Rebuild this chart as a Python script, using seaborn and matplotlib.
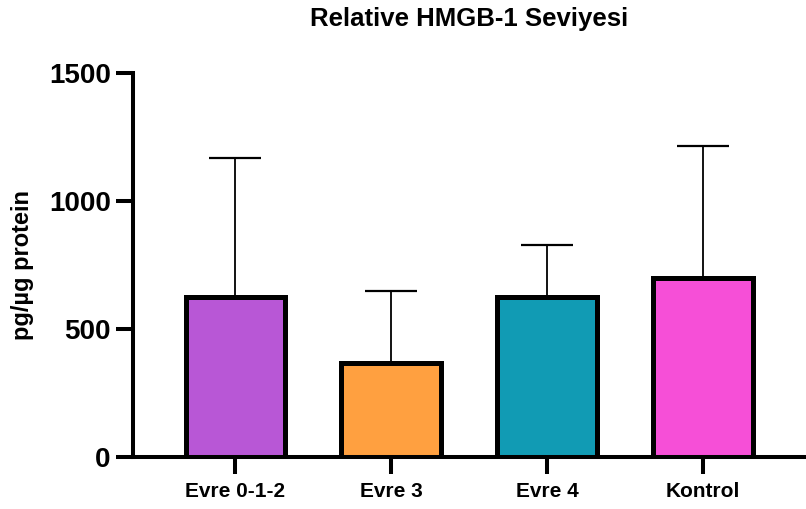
import matplotlib
matplotlib.use("Agg")
import matplotlib.pyplot as plt
import seaborn as sns
import pandas as pd
import numpy as np

categories = ["Evre 0-1-2", "Evre 3", "Evre 4", "Kontrol"]
means = [624, 366, 625, 698]
sd_upper = [545, 281, 201, 516]
colors = ["#B857D6", "#FFA040", "#119BB4", "#F64FD7"]
yticks = [0, 500, 1000, 1500]

sns.set_theme(style="white")
plt.rcParams["font.family"] = ["Liberation Sans", "DejaVu Sans"]
plt.rcParams["font.weight"] = "bold"
plt.rcParams["text.color"] = "black"
plt.rcParams["axes.labelcolor"] = "black"

fig = plt.figure(figsize=(8.06, 5.09), dpi=100)
ax = fig.add_axes([0.165, 0.102, 0.835, 0.755])

df = pd.DataFrame({"cat": categories, "val": means})
sns.barplot(data=df, x="cat", y="val", hue="cat", palette=colors, legend=False,
            errorbar=None, width=0.64, linewidth=3.6, edgecolor="black",
            saturation=1, ax=ax, zorder=2)

x = np.arange(len(categories))
ax.errorbar(x, means, yerr=[np.zeros(len(means)), sd_upper], fmt="none",
            ecolor="black", elinewidth=1.3, capsize=18.5, capthick=1.6, zorder=1)

ax.set_ylim(0, 1500)
ax.set_xlim(-0.657, 3.66)
ax.set_yticks(yticks)
ax.set_yticklabels([str(t) for t in yticks], fontsize=20, fontweight="bold")
ax.set_xticks(x)
ax.set_xticklabels(categories, fontsize=15, fontweight="bold")

for s in ["top", "right"]:
    ax.spines[s].set_visible(False)
for s in ["left", "bottom"]:
    ax.spines[s].set_linewidth(2.9)
    ax.spines[s].set_color("black")

ax.tick_params(axis="y", direction="out", length=12, width=2.9, pad=4, colors="black", left=True)
ax.tick_params(axis="x", direction="out", length=12, width=2.9, pad=6, colors="black", bottom=True)

ax.set_xlabel("")
ax.set_ylabel("pg/µg protein", fontsize=17, fontweight="bold", labelpad=11, color="black")
ax.set_title("Relative HMGB-1 Seviyesi", fontsize=18.5, fontweight="bold", pad=34, color="black")

fig.savefig("out.png", dpi=100)
